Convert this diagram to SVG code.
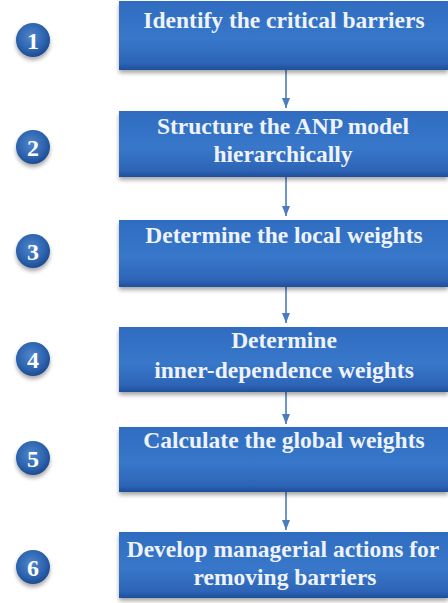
<svg xmlns="http://www.w3.org/2000/svg" width="448" height="603" viewBox="0 0 448 603">
<defs>
<linearGradient id="boxg" x1="0" y1="0" x2="0" y2="1">
<stop offset="0" stop-color="#2f6cc0"/>
<stop offset="0.55" stop-color="#3877ca"/>
<stop offset="0.9" stop-color="#2d64b6"/>
<stop offset="1" stop-color="#1f4f9a"/>
</linearGradient>
<radialGradient id="circg" cx="0.45" cy="0.4" r="0.6">
<stop offset="0" stop-color="#4f86cc"/>
<stop offset="0.7" stop-color="#2c62ad"/>
<stop offset="1" stop-color="#1d4b90"/>
</radialGradient>
<filter id="sh" x="-10%" y="-10%" width="120%" height="130%">
<feGaussianBlur in="SourceAlpha" stdDeviation="2"/>
<feOffset dx="0" dy="3"/>
<feComponentTransfer><feFuncA type="linear" slope="0.35"/></feComponentTransfer>
<feMerge><feMergeNode/><feMergeNode in="SourceGraphic"/></feMerge>
</filter>
<marker id="ah" viewBox="0 0 10 8" refX="10" refY="4" markerWidth="10" markerHeight="8" markerUnits="userSpaceOnUse" orient="auto">
<path d="M0,0 L10,4 L0,8 Z" fill="#4a7cc0"/>
</marker>
</defs>
<style>
.box{fill:url(#boxg);filter:url(#sh)}
.t{font-family:"Liberation Serif","Times New Roman",serif;font-weight:bold;font-size:23.5px;fill:#eef3fb;text-anchor:middle}
.circ{fill:url(#circg);filter:url(#sh)}
.n{font-family:"Liberation Serif","Times New Roman",serif;font-weight:bold;font-size:24px;fill:#ffffff;text-anchor:middle}
.c{stroke:#4a7cc0;stroke-width:1.6;fill:none;marker-end:url(#ah)}
</style>
<rect width="448" height="603" fill="#ffffff"/>
<g id="connectors">
<line class="c" x1="286" y1="70" x2="286" y2="108"/>
<line class="c" x1="286" y1="177" x2="286" y2="216"/>
<line class="c" x1="286" y1="287" x2="286" y2="323"/>
<line class="c" x1="286" y1="392" x2="286" y2="424"/>
<line class="c" x1="286" y1="492" x2="286" y2="530"/>
</g>
<g id="step1">
<circle class="circ" cx="33" cy="40" r="17"/>
<text class="n" x="33" y="48.5">1</text>
<rect class="box" x="119" y="1" width="329" height="69"/>
<text class="t" x="284" y="28">Identify the critical barriers</text>
</g>
<g id="step2">
<circle class="circ" cx="33" cy="147" r="17"/>
<text class="n" x="33" y="155.5">2</text>
<rect class="box" x="119" y="111" width="329" height="66"/>
<text class="t" x="283" y="134">Structure the ANP model</text>
<text class="t" x="283" y="162">hierarchically</text>
</g>
<g id="step3">
<circle class="circ" cx="33" cy="251" r="17"/>
<text class="n" x="33" y="259.5">3</text>
<rect class="box" x="119" y="220" width="329" height="67"/>
<text class="t" x="284" y="243">Determine the local weights</text>
</g>
<g id="step4">
<circle class="circ" cx="33" cy="359" r="17"/>
<text class="n" x="33" y="367.5">4</text>
<rect class="box" x="119" y="327" width="329" height="65"/>
<text class="t" x="284" y="348">Determine</text>
<text class="t" x="284" y="378">inner-dependence weights</text>
</g>
<g id="step5">
<circle class="circ" cx="33" cy="458" r="17"/>
<text class="n" x="33" y="466.5">5</text>
<rect class="box" x="119" y="427" width="329" height="65"/>
<text class="t" x="284" y="448">Calculate the global weights</text>
</g>
<g id="step6">
<circle class="circ" cx="33" cy="567" r="17"/>
<text class="n" x="33" y="575.5">6</text>
<rect class="box" x="119" y="532" width="329" height="66"/>
<text class="t" x="283" y="557">Develop managerial actions for</text>
<text class="t" x="285" y="585">removing barriers</text>
</g>
</svg>
